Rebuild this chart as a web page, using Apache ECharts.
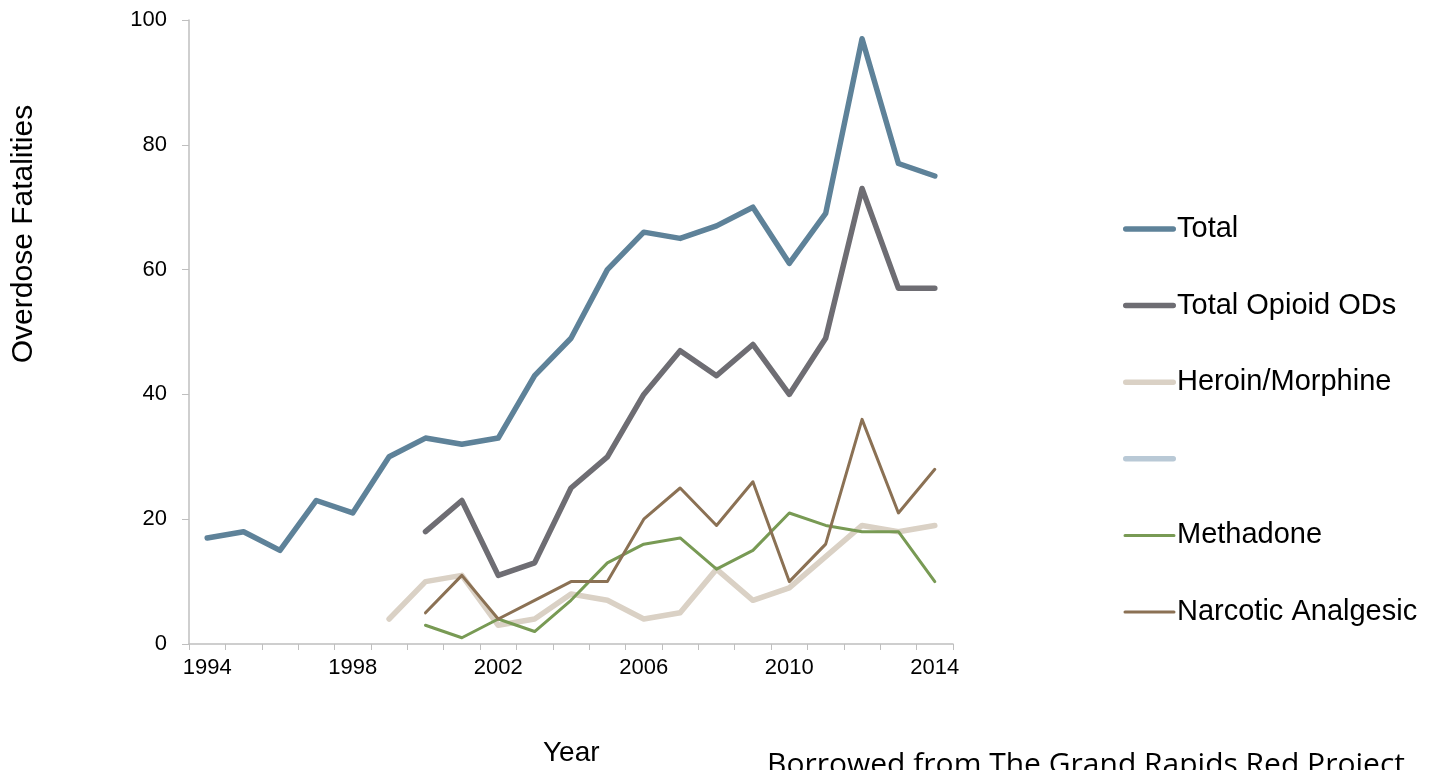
<!DOCTYPE html>
<html>
<head>
<meta charset="utf-8">
<script src="https://cdn.jsdelivr.net/npm/echarts@6/dist/echarts.min.js"></script>
<style>html,body{margin:0;padding:0;background:#fff;}#c{width:1435px;height:770px;}</style>
</head>
<body>
<div id="c"></div>
<script>
const years = ['1994','1995','1996','1997','1998','1999','2000','2001','2002','2003','2004','2005','2006','2007','2008','2009','2010','2011','2012','2013','2014'];
const total =        [17,18,15,23,21,30,33,32,33,43,49,60,66,65,67,70,61,69,97,77,75];
const totalOpioid =  [null,null,null,null,null,null,18,23,11,13,25,30,40,47,43,48,40,49,73,57,57];
const heroin =       [null,null,null,null,null,4,10,11,3,4,8,7,4,5,12,7,9,14,19,18,19];
const blankSeries =  [];
const methadone =    [null,null,null,null,null,null,3,1,4,2,7,13,16,17,12,15,21,19,18,18,10];
const narcotic =     [null,null,null,null,null,null,5,11,4,7,10,10,20,25,19,26,10,16,36,21,28];
const seriesNames = ['Total','Total Opioid ODs','Heroin/Morphine',' ','Methadone','Narcotic Analgesic'];
const yTicks = {min:0, max:100, interval:20};

const chart = echarts.init(document.getElementById('c'), null, {renderer:'canvas'});
function line(name, data, color, width){
  return {name, type:'line', data, symbol:'none', showSymbol:false, connectNulls:false,
    lineStyle:{color, width, cap:'round', join:'round'}, itemStyle:{color}, z: 10};
}
// legend icons: viewBox matches itemWidth x itemHeight (53 x 14)
const thickIcon = 'path://M0,0h0.01v0.01h-0.01z M2.75,4.25h47.5a2.75,2.75 0 0 1 0,5.5h-47.5a2.75,2.75 0 0 1 0,-5.5z M52.99,13.99h0.01v0.01h-0.01z';
const thinIcon  = 'path://M0,0h0.01v0.01h-0.01z M2,5.5h49a1.5,1.5 0 0 1 0,3h-49a1.5,1.5 0 0 1 0,-3z M52.99,13.99h0.01v0.01h-0.01z';
const font = 'Liberation Sans, Arial, sans-serif';
chart.setOption({
  animation:false,
  backgroundColor:'#fff',
  textStyle:{fontFamily:font},
  grid:{left:189, top:20, right:482, bottom:126, containLabel:false},
  xAxis:{type:'category', data:years, boundaryGap:true,
    axisLine:{lineStyle:{color:'#BFBFBF', width:1.5}},
    axisTick:{show:true, interval:0, length:6, lineStyle:{color:'#BFBFBF'}},
    axisLabel:{interval:3, color:'#000', fontSize:22, margin:13},
    splitLine:{show:false}},
  yAxis:{type:'value', min:yTicks.min, max:yTicks.max, interval:yTicks.interval,
    axisLine:{show:true, lineStyle:{color:'#BFBFBF', width:1.5}},
    axisTick:{show:true, length:7, lineStyle:{color:'#BFBFBF'}},
    axisLabel:{color:'#000', fontSize:22, margin:22},
    splitLine:{show:false}},
  legend:{orient:'vertical', left:1118, top:209, itemWidth:53, itemHeight:14, itemGap:46.6,
    symbolKeepAspect:false,
    textStyle:{color:'#000', fontSize:29, lineHeight:30, padding:[0,0,0,-4]},
    data:[
      {name:seriesNames[0], icon:thickIcon},
      {name:seriesNames[1], icon:thickIcon},
      {name:seriesNames[2], icon:thickIcon},
      {name:seriesNames[3], icon:thickIcon},
      {name:seriesNames[4], icon:thinIcon},
      {name:seriesNames[5], icon:thinIcon}
    ]},
  series:[
    line(seriesNames[0], total, '#5E8299', 5.5),
    line(seriesNames[1], totalOpioid, '#6E6D73', 5.5),
    line(seriesNames[2], heroin, '#DAD1C5', 5.5),
    line(seriesNames[3], blankSeries, '#B9C9D6', 5.5),
    line(seriesNames[4], methadone, '#789A54', 3),
    line(seriesNames[5], narcotic, '#8B7154', 3)
  ],
  graphic:[
    {type:'text', x:24, y:234, rotation:Math.PI/2,
     style:{text:'Overdose Fatalities', font:'30px ' + font, fill:'#000', align:'center', verticalAlign:'middle'}},
    {type:'text', left:543, top:739, style:{text:'Year', font:'28px ' + font, fill:'#000'}},
    {type:'text', left:767, top:750, style:{text:'Borrowed from The Grand Rapids Red Project', font:'30px Open Sans, Noto Sans, sans-serif', fill:'#000'}}
  ]
});
</script>
</body>
</html>
